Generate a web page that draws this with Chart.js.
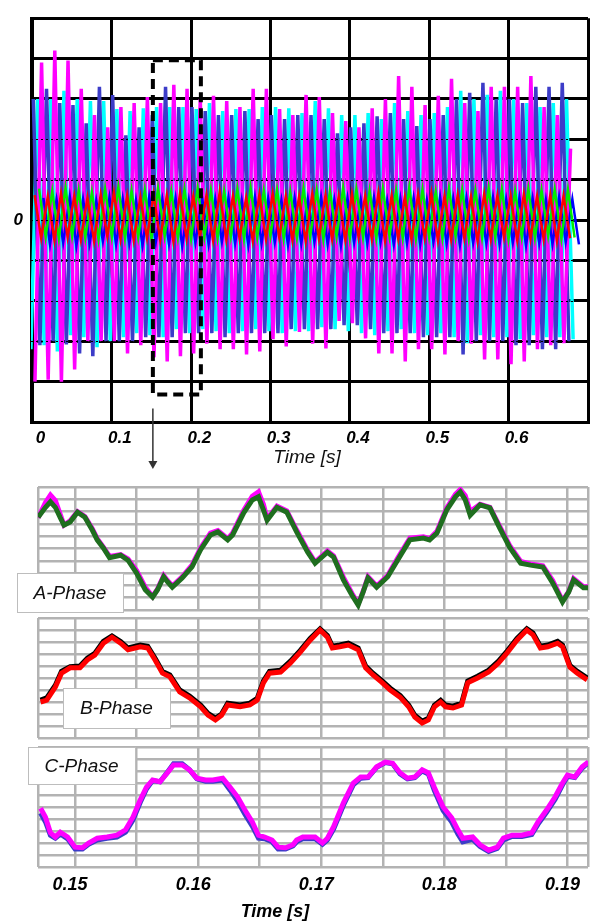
<!DOCTYPE html>
<html><head><meta charset="utf-8">
<script src="https://cdn.jsdelivr.net/npm/chart.js@4.4.1/dist/chart.umd.min.js"></script>
<style>
html,body{margin:0;padding:0;background:#fff;width:590px;height:924px;overflow:hidden;}
canvas{position:absolute;left:0;}
</style></head><body>
<canvas id="overview" width="594" height="475" style="top:0"></canvas>
<canvas id="phaseA" width="590" height="134" style="top:480px"></canvas>
<canvas id="phaseB" width="590" height="128" style="top:614px"></canvas>
<canvas id="phaseC" width="595" height="182" style="top:742px"></canvas>
<script>
// ---------------- Overview (0 - 0.68 s): extremes of each 60 Hz half-cycle ----------------
const HALF_CYCLE = 1 / 120;            // s between successive extremes
const overviewTicks = [0, 0.1, 0.2, 0.3, 0.4, 0.5, 0.6, 0.7];

const magentaStart = 0.003;            // first extreme is a trough
const magentaTroughs = [-4.0,-3.95,-4.0,-3.7,-3.0,-3.0,-3.0,-3.3,-3.1,-3.4,-3.5,-3.37,-3.3,-3.06,-3.2,-3.2,-3.33,-3.25,-2.95,-3.13,-2.77,-3.06,-3.18,-2.5,-2.55,-2.93,-3.3,-3.3,-3.5,-3.2,-3.2,-3.33,-3.0,-3.06,-3.45,-3.45,-3.57,-3.5,-3.2,-3.1,-3.05];
const magentaPeaks = [3.9,4.2,3.95,3.25,2.6,2.3,2.8,2.9,3.05,2.9,3.35,3.25,3.0,3.08,2.95,2.8,3.25,3.25,2.75,2.6,3.1,3.05,2.65,2.45,2.3,2.77,3.0,3.57,3.3,2.85,3.08,3.5,2.9,2.7,3.3,3.3,3.3,3.57,2.8,2.6,1.77];

const blueStart = 0.0009;              // first extreme is a peak
const bluePeaks = [3.0,3.25,2.9,2.85,2.4,3.3,3.1,2.1,2.3,2.6,3.3,2.8,2.8,2.7,2.6,2.6,2.7,2.5,2.6,2.5,2.6,2.6,2.5,2.15,2.3,2.4,2.57,2.65,2.5,2.33,2.5,2.6,3.0,3.15,3.4,3.0,3.0,2.9,3.3,3.3,3.4];
const blueTroughs = [-3.1,-3.0,-3.08,-3.3,-3.37,-3.0,-3.0,-3.0,-2.9,-2.9,-2.9,-2.8,-2.8,-2.8,-2.9,-2.8,-2.8,-2.8,-2.8,-2.7,-2.7,-2.7,-2.7,-2.6,-2.6,-2.7,-2.8,-2.8,-2.8,-2.9,-2.9,-2.9,-3.33,-3.0,-3.0,-3.0,-3.1,-3.1,-3.2,-3.2,-3.0];

const cyanStart = -0.0021;             // first extreme is a trough
const cyanTroughs = [-3.2,-3.1,-3.25,-2.85,-2.9,-3.15,-3.0,-2.9,-2.8,-2.85,-2.9,-2.7,-2.8,-2.7,-2.75,-2.8,-2.75,-2.7,-2.75,-2.8,-2.75,-2.75,-2.65,-2.7,-2.75,-2.8,-2.85,-2.75,-2.7,-2.8,-2.85,-2.8,-2.9,-3.05,-2.85,-2.9,-2.9,-2.95,-2.85,-2.9,-2.9,-2.95];
const cyanPeaks = [3.0,3.0,3.2,3.0,2.95,2.95,2.75,2.7,2.77,2.8,2.8,2.8,2.75,2.9,2.7,2.75,2.75,2.8,2.8,2.77,2.65,2.95,2.77,2.6,2.6,2.65,2.5,2.9,2.7,2.6,2.65,2.8,3.2,3.0,3.1,3.2,3.0,2.9,2.8,2.9,3.0];

const redStart = 0.0025;
const redPeaks = [0.62,0.58,0.66,0.6,0.55,0.63,0.68,0.6,0.57,0.64,0.61,0.66,0.59,0.62,0.7,0.6,0.56,0.63,0.65,0.6,0.58,0.66,0.62,0.59,0.64,0.6,0.67,0.61,0.57,0.63,0.66,0.6,0.62,0.58,0.65,0.61,0.6,0.64,0.59,0.62,0.6];
const redTroughs = [-0.45,-0.5,-0.42,-0.48,-0.52,-0.4,-0.47,-0.5,-0.44,-0.49,-0.53,-0.46,-0.42,-0.5,-0.48,-0.45,-0.51,-0.47,-0.43,-0.5,-0.52,-0.45,-0.48,-0.5,-0.42,-0.47,-0.51,-0.46,-0.49,-0.44,-0.5,-0.48,-0.45,-0.52,-0.47,-0.43,-0.5,-0.46,-0.48,-0.51,-0.45];
const greenStart = 0.0081;
const greenPeaks = [0.78,0.72,0.8,0.74,0.7,0.77,0.82,0.73,0.75,0.79,0.71,0.76,0.8,0.74,0.72,0.78,0.81,0.73,0.76,0.7,0.79,0.75,0.72,0.8,0.77,0.73,0.78,0.74,0.82,0.76,0.71,0.79,0.75,0.73,0.8,0.77,0.72,0.78,0.74,0.76,0.75];
const greenTroughs = [-0.42,-0.46,-0.4,-0.44,-0.48,-0.41,-0.45,-0.43,-0.47,-0.4,-0.44,-0.46,-0.42,-0.45,-0.41,-0.47,-0.43,-0.4,-0.46,-0.44,-0.42,-0.48,-0.41,-0.45,-0.43,-0.46,-0.4,-0.44,-0.47,-0.42,-0.45,-0.41,-0.46,-0.43,-0.44,-0.48,-0.42,-0.45,-0.4,-0.46,-0.43];
const smallBlueStart = 0.0136;
const smallBluePeaks = [0.55,0.5,0.58,0.52,0.48,0.56,0.53,0.5,0.57,0.51,0.54,0.49,0.56,0.52,0.55,0.5,0.58,0.53,0.49,0.55,0.52,0.57,0.5,0.54,0.51,0.56,0.48,0.53,0.55,0.5,0.57,0.52,0.54,0.49,0.56,0.51,0.55,0.53,0.5,0.57,0.52];
const smallBlueTroughs = [-0.6,-0.55,-0.63,-0.58,-0.52,-0.6,-0.57,-0.62,-0.55,-0.59,-0.64,-0.56,-0.6,-0.53,-0.58,-0.62,-0.57,-0.55,-0.61,-0.59,-0.54,-0.6,-0.63,-0.56,-0.58,-0.55,-0.61,-0.57,-0.6,-0.53,-0.59,-0.62,-0.56,-0.58,-0.6,-0.55,-0.63,-0.57,-0.59,-0.54,-0.6];

const overviewDataEnd = 0.683;
const dottedLevels = [2, 1, 0, -1, -2, -3];
const zoomWindow = { t0: 0.1516, t1: 0.2121, top: 3.96, bottom: -4.32 };

// ---------------- Zoomed window (0.147 - 0.192 s) ----------------
const ZOOM_MIN = 0.14699, ZOOM_MAX = 0.19167;
const zoomGridTimes = [ZOOM_MIN, 0.15, 0.155, 0.16, 0.165, 0.17, 0.175, 0.18, 0.185, 0.19, ZOOM_MAX];

const tA = [0.1470,0.1476,0.1480,0.1484,0.1488,0.1491,0.1496,0.1502,0.1508,0.1514,0.1518,0.1523,0.1528,0.1537,0.1543,0.1550,0.1557,0.1563,0.1567,0.1572,0.1575,0.1579,0.1587,0.1595,0.1602,0.1610,0.1616,0.1624,0.1628,0.1637,0.1644,0.1649,0.1653,0.1656,0.1664,0.1672,0.1680,0.1689,0.1695,0.1705,0.1710,0.1718,0.1725,0.1730,0.1734,0.1738,0.1745,0.1754,0.1762,0.1772,0.1783,0.1788,0.1794,0.1802,0.1809,0.1813,0.1817,0.1821,0.1829,0.1837,0.1845,0.1853,0.1862,0.1870,0.1880,0.1888,0.1896,0.1901,0.1905,0.1913,0.1918];
const aGreen = [0.51,0.67,0.76,0.67,0.50,0.38,0.43,0.59,0.51,0.30,0.14,0.01,-0.15,-0.11,-0.19,-0.40,-0.67,-0.79,-0.67,-0.46,-0.54,-0.63,-0.48,-0.30,-0.02,0.22,0.27,0.14,0.22,0.58,0.79,0.84,0.63,0.46,0.67,0.59,0.27,-0.06,-0.24,-0.06,-0.14,-0.51,-0.76,-0.92,-0.71,-0.48,-0.63,-0.46,-0.19,0.14,0.17,0.14,0.25,0.63,0.84,0.92,0.79,0.54,0.71,0.66,0.33,0.02,-0.24,-0.27,-0.30,-0.56,-0.87,-0.71,-0.51,-0.64,-0.64];
const aMagenta = [0.50,0.75,0.87,0.78,0.55,0.38,0.45,0.60,0.52,0.32,0.16,0.02,-0.13,-0.10,-0.17,-0.36,-0.63,-0.78,-0.66,-0.44,-0.52,-0.61,-0.46,-0.27,0.01,0.25,0.29,0.16,0.25,0.62,0.85,0.92,0.72,0.48,0.69,0.61,0.30,-0.03,-0.22,-0.04,-0.12,-0.47,-0.73,-0.90,-0.70,-0.46,-0.61,-0.44,-0.16,0.17,0.19,0.16,0.28,0.66,0.88,0.96,0.86,0.60,0.72,0.67,0.36,0.05,-0.21,-0.25,-0.28,-0.52,-0.85,-0.70,-0.49,-0.62,-0.62];

const tB = [0.1472,0.1477,0.1484,0.1489,0.1496,0.1504,0.1510,0.1516,0.1523,0.1530,0.1537,0.1543,0.1553,0.1559,0.1565,0.1571,0.1577,0.1585,0.1593,0.1602,0.1608,0.1614,0.1619,0.1624,0.1634,0.1642,0.1648,0.1653,0.1658,0.1667,0.1675,0.1683,0.1691,0.1699,0.1705,0.1709,0.1715,0.1722,0.1730,0.1736,0.1742,0.1749,0.1756,0.1764,0.1771,0.1776,0.1782,0.1787,0.1792,0.1797,0.1801,0.1807,0.1814,0.1819,0.1827,0.1836,0.1844,0.1851,0.1859,0.1867,0.1872,0.1878,0.1884,0.1892,0.1896,0.1902,0.1908,0.1916];
const bRed = [-0.40,-0.37,-0.15,0.08,0.17,0.17,0.30,0.38,0.58,0.68,0.58,0.47,0.52,0.50,0.30,0.08,0.02,-0.23,-0.33,-0.48,-0.62,-0.70,-0.62,-0.45,-0.48,-0.45,-0.37,-0.08,0.08,0.10,0.25,0.43,0.63,0.80,0.68,0.50,0.52,0.55,0.47,0.17,0.05,-0.07,-0.20,-0.32,-0.48,-0.65,-0.75,-0.70,-0.48,-0.40,-0.48,-0.50,-0.45,-0.08,0.00,0.10,0.25,0.42,0.63,0.80,0.72,0.50,0.52,0.58,0.52,0.18,0.08,-0.03];
const bBlack = [-0.37,-0.33,-0.12,0.11,0.19,0.20,0.33,0.41,0.61,0.70,0.61,0.50,0.55,0.53,0.33,0.11,0.05,-0.20,-0.30,-0.45,-0.59,-0.67,-0.60,-0.42,-0.45,-0.42,-0.34,-0.05,0.11,0.13,0.28,0.46,0.66,0.82,0.71,0.53,0.55,0.58,0.50,0.20,0.08,-0.04,-0.17,-0.29,-0.45,-0.62,-0.72,-0.67,-0.45,-0.37,-0.45,-0.47,-0.42,-0.05,0.03,0.13,0.28,0.45,0.66,0.82,0.75,0.53,0.55,0.61,0.55,0.21,0.11,0.00];

const tC = [0.1472,0.1476,0.1480,0.1484,0.1488,0.1494,0.1500,0.1506,0.1511,0.1518,0.1526,0.1534,0.1541,0.1547,0.1553,0.1558,0.1563,0.1569,0.1575,0.1580,0.1587,0.1593,0.1599,0.1606,0.1612,0.1620,0.1626,0.1632,0.1638,0.1644,0.1649,0.1654,0.1660,0.1665,0.1671,0.1677,0.1680,0.1685,0.1695,0.1701,0.1705,0.1710,0.1718,0.1726,0.1732,0.1738,0.1745,0.1752,0.1758,0.1764,0.1770,0.1776,0.1782,0.1787,0.1792,0.1799,0.1806,0.1811,0.1815,0.1823,0.1829,0.1836,0.1843,0.1848,0.1855,0.1863,0.1871,0.1876,0.1883,0.1890,0.1896,0.1900,0.1906,0.1912,0.1917];
const cMagenta = [-0.02,-0.17,-0.43,-0.50,-0.42,-0.50,-0.67,-0.68,-0.60,-0.52,-0.50,-0.47,-0.38,-0.17,0.12,0.33,0.45,0.42,0.57,0.70,0.70,0.62,0.48,0.45,0.45,0.48,0.33,0.17,-0.05,-0.25,-0.47,-0.50,-0.55,-0.67,-0.68,-0.63,-0.55,-0.50,-0.50,-0.60,-0.52,-0.33,0.07,0.40,0.50,0.50,0.67,0.75,0.73,0.57,0.48,0.50,0.62,0.57,0.32,0.00,-0.18,-0.38,-0.52,-0.50,-0.63,-0.72,-0.67,-0.52,-0.47,-0.47,-0.43,-0.25,-0.05,0.17,0.40,0.53,0.50,0.67,0.75];
const cBlue = [-0.10,-0.25,-0.47,-0.52,-0.45,-0.53,-0.70,-0.70,-0.62,-0.55,-0.52,-0.50,-0.42,-0.22,0.08,0.30,0.44,0.42,0.58,0.72,0.72,0.62,0.47,0.43,0.43,0.45,0.28,0.10,-0.12,-0.32,-0.52,-0.53,-0.58,-0.70,-0.70,-0.65,-0.58,-0.53,-0.53,-0.62,-0.55,-0.37,0.03,0.37,0.48,0.49,0.66,0.74,0.72,0.55,0.47,0.49,0.60,0.55,0.27,-0.06,-0.25,-0.45,-0.58,-0.54,-0.66,-0.74,-0.69,-0.55,-0.49,-0.49,-0.46,-0.29,-0.09,0.13,0.37,0.51,0.49,0.65,0.74];

// ---------------- helpers ----------------
const FONT = '"Liberation Sans", Arial, sans-serif';
function alternate(t0, first, second) {
  const pts = [];
  const n = Math.max(first.length, second.length);
  for (let i = 0; i < n; i++) {
    if (i < first.length) pts.push({ x: t0 + 2 * i * HALF_CYCLE, y: first[i] });
    if (i < second.length) pts.push({ x: t0 + (2 * i + 1) * HALF_CYCLE, y: second[i] });
  }
  return pts;
}
const pair = (ts, vs) => ts.map((t, i) => ({ x: t, y: vs[i] }));
const line = (data, color, w) => ({ data, borderColor: color, borderWidth: w, pointRadius: 0, tension: 0, fill: false });

// ---------------- overview chart ----------------
const overviewExtras = {
  id: 'overviewExtras',
  afterDatasetsDraw(chart) {
    const { ctx, scales: { x, y } } = chart;
    ctx.save();
    ctx.strokeStyle = '#000';
    ctx.lineWidth = 1;
    ctx.setLineDash([2, 3]);
    const xe = x.getPixelForValue(overviewDataEnd);
    dottedLevels.forEach(v => {
      const py = Math.round(y.getPixelForValue(v)) + 0.5;
      ctx.beginPath(); ctx.moveTo(x.left, py); ctx.lineTo(xe, py); ctx.stroke();
    });
    const l = x.getPixelForValue(zoomWindow.t0), r = x.getPixelForValue(zoomWindow.t1);
    const t = y.getPixelForValue(zoomWindow.top), b = y.getPixelForValue(zoomWindow.bottom);
    ctx.lineWidth = 4;
    ctx.setLineDash([10, 6]);
    ctx.strokeRect(l, t, r - l, b - t);
    ctx.restore();
  },
  afterDraw(chart) {
    const { ctx, scales: { x, y } } = chart;
    const l = x.getPixelForValue(zoomWindow.t0);
    const b = y.getPixelForValue(zoomWindow.bottom);
    ctx.save();
    ctx.strokeStyle = '#333'; ctx.fillStyle = '#333'; ctx.lineWidth = 1.5;
    ctx.beginPath(); ctx.moveTo(l, b + 14); ctx.lineTo(l, 462); ctx.stroke();
    ctx.beginPath(); ctx.moveTo(l - 4.5, 461); ctx.lineTo(l + 4.5, 461); ctx.lineTo(l, 469); ctx.closePath(); ctx.fill();
    ctx.fillStyle = '#111';
    ctx.font = 'italic 19px ' + FONT;
    ctx.textAlign = 'center'; ctx.textBaseline = 'middle';
    ctx.fillText('Time [s]', 307, 458);
    ctx.restore();
  }
};

new Chart(document.getElementById('overview'), {
  type: 'line',
  data: { datasets: [
    line(alternate(redStart, redPeaks, redTroughs), '#ff0000', 2.5),
    line(alternate(greenStart, greenPeaks, greenTroughs), '#00ee00', 2.5),
    line(alternate(smallBlueStart, smallBluePeaks, smallBlueTroughs), '#0000ff', 2.5),
    line(alternate(magentaStart, magentaTroughs, magentaPeaks), '#ff00ff', 3.5),
    line(alternate(blueStart, bluePeaks, blueTroughs), '#3c3cc8', 3.5),
    line(alternate(cyanStart, cyanTroughs, cyanPeaks), '#00ffff', 3.5)
  ]},
  options: {
    responsive: false, animation: false, events: [],
    layout: { padding: { top: 10, right: 2, left: 0, bottom: 0 } },
    plugins: { legend: { display: false }, tooltip: { enabled: false } },
    scales: {
      x: {
        type: 'linear', min: -0.002, max: 0.7,
        afterBuildTicks: s => { s.ticks = overviewTicks.map(v => ({ value: v })); },
        afterFit: s => { s.height = 53; },
        grid: { color: '#000', lineWidth: 3, drawTicks: false },
        border: { display: true, color: '#000', width: 3 },
        ticks: {
          autoSkip: false, maxRotation: 0, padding: 6, labelOffset: 8, color: '#000',
          font: { family: FONT, size: 17, weight: 'bold', style: 'italic' },
          callback: v => v > 0.65 ? '' : String(Math.round(v * 10) / 10)
        }
      },
      y: {
        min: -5, max: 5,
        afterFit: s => { s.width = 31; },
        grid: { color: '#000', lineWidth: 3, drawTicks: false },
        border: { display: true, color: '#000', width: 3 },
        ticks: {
          stepSize: 1, padding: 8, color: '#000',
          font: { family: FONT, size: 17, weight: 'bold', style: 'italic' },
          callback: v => v === 0 ? '0' : ''
        }
      }
    }
  },
  plugins: [overviewExtras]
});

// ---------------- zoomed phase panels ----------------
const GRID_GRAY = '#b3b3b3';
function labelBox(text, bx, by, bw, bh) {
  return {
    id: 'box' + text,
    afterDraw(chart) {
      const ctx = chart.ctx;
      ctx.save();
      ctx.fillStyle = '#fff';
      ctx.fillRect(bx, by, bw, bh);
      ctx.strokeStyle = '#bdbdbd'; ctx.lineWidth = 1;
      ctx.strokeRect(bx + 0.5, by + 0.5, bw, bh);
      ctx.fillStyle = '#111';
      ctx.font = 'italic 19px ' + FONT;
      ctx.textAlign = 'center'; ctx.textBaseline = 'middle';
      ctx.fillText(text, bx + bw / 2, by + bh / 2 + 1);
      ctx.restore();
    }
  };
}
function makePanel(id, datasets, cfg, extraPlugins) {
  return new Chart(document.getElementById(id), {
    type: 'line',
    data: { datasets },
    options: {
      responsive: false, animation: false, events: [],
      layout: { padding: { top: cfg.padTop, right: 2, left: 0, bottom: 0 } },
      plugins: { legend: { display: false }, tooltip: { enabled: false } },
      scales: {
        x: {
          type: 'linear', min: ZOOM_MIN, max: ZOOM_MAX,
          afterBuildTicks: s => { s.ticks = zoomGridTimes.map(v => ({ value: v })); },
          afterFit: s => { s.height = cfg.axisH; },
          grid: { color: GRID_GRAY, lineWidth: 2.5, drawTicks: false },
          border: { display: false },
          ticks: {
            display: cfg.showTicks, autoSkip: false, maxRotation: 0, padding: 7, labelOffset: -5, color: '#000',
            font: { family: FONT, size: 18, weight: 'bold', style: 'italic' },
            callback: v => {
              const r = Math.round(v * 100) / 100;
              return Math.abs(v - r) < 1e-7 ? r.toFixed(2) : '';
            }
          }
        },
        y: {
          min: -1, max: 1,
          afterFit: s => { s.width = 38; },
          grid: { color: GRID_GRAY, lineWidth: 2.5, drawTicks: false },
          border: { display: false },
          ticks: { display: false, stepSize: 0.2 }
        }
      }
    },
    plugins: extraPlugins
  });
}

makePanel('phaseA', [
  line(pair(tA, aGreen), '#1f6e1f', 5),
  line(pair(tA, aMagenta), '#ff00ff', 5)
], { padTop: 7, axisH: 4, showTicks: false }, [labelBox('A-Phase', 17, 93, 106, 39)]);

makePanel('phaseB', [
  line(pair(tB, bRed), '#ff0000', 5),
  line(pair(tB, bBlack), '#000000', 5)
], { padTop: 4, axisH: 4, showTicks: false }, [labelBox('B-Phase', 63, 74, 107, 40)]);

const bottomTitle = {
  id: 'bottomTitle',
  afterDraw(chart) {
    const ctx = chart.ctx;
    ctx.save();
    ctx.fillStyle = '#000';
    ctx.font = 'italic bold 18px ' + FONT;
    ctx.textAlign = 'center'; ctx.textBaseline = 'middle';
    ctx.fillText('Time [s]', 275, 170);
    ctx.restore();
  }
};
makePanel('phaseC', [
  line(pair(tC, cMagenta), '#ff00ff', 5),
  line(pair(tC, cBlue), '#3c3cc8', 5)
], { padTop: 5, axisH: 57, showTicks: true }, [labelBox('C-Phase', 28, 5, 107, 37), bottomTitle]);
</script>
</body></html>
